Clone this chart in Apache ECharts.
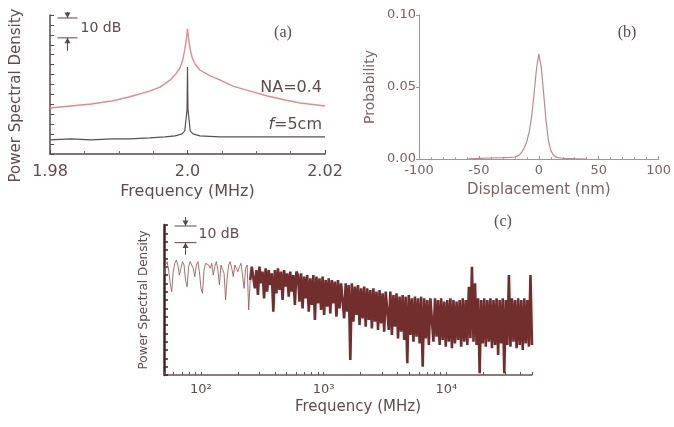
<!DOCTYPE html>
<html>
<head>
<meta charset="utf-8">
<script src="https://cdn.jsdelivr.net/npm/echarts@6/dist/echarts.min.js"></script>
<style>
  html, body { margin: 0; padding: 0; background: #fff; }
  #chart { width: 674px; height: 427px; }
</style>
</head>
<body>
<div id="chart"></div>
<script>
// ---- (a) resonance around 2 MHz, relative PSD in dB ----
const freqNA = [1.980, 1.983, 1.986, 1.989, 1.9915, 1.9945, 1.996, 1.9975, 1.9983, 1.9989, 1.9993, 1.9996, 1.99985, 2.0000,
                2.00015, 2.0004, 2.0007, 2.0011, 2.0018, 2.0033, 2.0047, 2.0066, 2.0091, 2.0116, 2.0142, 2.0164, 2.0200];
const psdNA = [-46.8, -45.8, -44.8, -43.3, -41.3, -38.3, -36.3, -32.7, -29.7, -26.7, -22.7, -17.6, -11.6, -7.1,
               -11.6, -17.6, -21.7, -24.7, -27.7, -30.7, -32.7, -35.8, -38.3, -40.8, -42.8, -44.3, -45.8];
const freqFocus = [1.980, 1.983, 1.986, 1.989, 1.9916, 1.9945, 1.9967, 1.9982, 1.9992, 1.9996, 1.99993, 2.0000,
                   2.00007, 2.0004, 2.0008, 2.0018, 2.0047, 2.0091, 2.0134, 2.0164, 2.0200];
const psdFocus = [-62.9, -62.4, -62.9, -62.4, -62.4, -61.9, -61.4, -60.9, -59.9, -58.4, -47.8, -26.2,
                  -47.8, -58.4, -59.9, -60.9, -61.4, -61.4, -61.4, -61.4, -61.4];

// ---- (b) displacement histogram ----
const dispNm = [-60, -50, -40, -30, -24, -20, -18, -16, -14, -12, -10, -8, -6, -4, -2, 0, 2, 4, 6, 8, 10, 12, 14, 16, 20, 30, 40];
const prob = [0, 0.0004, 0.0007, 0.0009, 0.0011, 0.0014, 0.002, 0.003, 0.005, 0.008, 0.012, 0.019, 0.029, 0.045, 0.062,
              0.073, 0.064, 0.046, 0.027, 0.013, 0.006, 0.003, 0.0015, 0.001, 0.0005, 0.0002, 0];

// ---- (c) broadband PSD (dB), sampled on a log-spaced frequency grid ----
const broadStartMHz = 50;
const broadEndMHz = 50000;
const psdBroad = [
  // 50 - 108 MHz
  -30, -24, -22, -27, -35, -40, -28, -23, -21, -24, -30, -26, -22, -24, -33, -37, -25, -22, -21, -26, -31, -24, -22, -28, -38, -41, -27, -23, -22,
  // 110 - 250 MHz
  -24, -26, -23, -30, -25, -22, -27, -36, -24, -23, -29, -45, -32, -24, -22, -26, -31, -24, -23, -28, -25, -23, -30, -38, -26, -24, -51, -33, -25,
  // 250 - 560 MHz
  -26, -38, -27, -42, -25, -35, -28, -44, -26, -40, -27, -36, -29, -52, -27, -41, -26, -39, -28, -45, -27, -37, -29, -43, -28, -40, -30, -48, -28,
  // 0.57 - 1.3 GHz
  -30, -46, -29, -50, -31, -44, -30, -52, -32, -48, -30, -57, -31, -47, -32, -51, -31, -54, -33, -49, -32, -53, -33, -47, -34, -55, -33, -50, -35,
  // 1.3 - 2.9 GHz
  -34, -56, -35, -52, -36, -81, -35, -58, -37, -54, -36, -60, -38, -56, -37, -61, -38, -57, -39, -62, -38, -58, -40, -63, -39, -59, -41, -64, -40,
  // 3 - 6.5 GHz
  -41, -63, -40, -66, -42, -61, -41, -68, -43, -64, -42, -69, -43, -83, -42, -66, -44, -70, -43, -67, -44, -71, -43, -85, -44, -68, -45, -72, -44,
  // 6.7 - 16 GHz
  -45, -70, -44, -67, -45, -72, -44, -69, -46, -73, -45, -70, -44, -74, -45, -71, -46, -69, -45, -73, -44, -70, -45, -72, -37, -68, -25, -70, -35, -72,
  // 16 - 50 GHz
  -44, -89, -45, -71, -44, -73, -45, -70, -44, -74, -45, -72, -44, -78, -45, -71, -44, -89, -45, -72, -30, -73, -44, -70, -45, -74, -44, -72, -45, -75,
  -44, -71, -45, -73, -30, -72
];
const freqBroad = psdBroad.map((_, i) =>
  broadStartMHz * Math.pow(broadEndMHz / broadStartMHz, i / (psdBroad.length - 1)));
// below this sample index the trace is sparse (thin strokes), above it the trace is a dense band
const denseFrom = 56;
const decadeLabels = [100, 1000, 10000];

const zip = (xs, ys) => xs.map((x, i) => [x, ys[i]]);

const TEXT = '#5f4c4c';
const TEXT_B = '#7a6464';
const FONT = 'DejaVu Sans';
const SERIF = 'Liberation Serif';

// log-axis tick positions: 5..9 x 10^1, then 1..9 x 10^2, 10^3, then up to 5 x 10^4
const logTicks = [];
for (let e = 1; e <= 4; e++) {
  for (let m = 1; m <= 9; m++) {
    const v = m * Math.pow(10, e);
    if (v >= broadStartMHz && v <= broadEndMHz) logTicks.push(v);
  }
}
const SUP = { 2: '\u00b2', 3: '\u00b3', 4: '\u2074' };

const chart = echarts.init(document.getElementById('chart'), null, { renderer: 'canvas' });

const broadPts = zip(freqBroad, psdBroad);

const option = {
  animation: false,
  backgroundColor: '#ffffff',
  grid: [
    { left: 50, top: 15, width: 275, height: 139 },
    { left: 419, top: 15, width: 240, height: 144 },
    { left: 164, top: 225, width: 368, height: 150 }
  ],
  xAxis: [
    {
      gridIndex: 0, type: 'value', min: 1.98, max: 2.02, interval: 0.02,
      name: 'Frequency (MHz)', nameLocation: 'middle', nameGap: 30,
      nameTextStyle: { color: TEXT, fontFamily: FONT, fontSize: 16 },
      axisLine: { onZero: false, lineStyle: { color: '#5a4848', width: 1.5 } },
      axisTick: { inside: true, length: 4, lineStyle: { color: '#5a4848' } },
      minorTick: { show: true, splitNumber: 4, length: 3, lineStyle: { color: '#7a6868' } },
      splitLine: { show: false },
      axisLabel: {
        color: TEXT, fontFamily: FONT, fontSize: 16, margin: 10,
        formatter: v => Math.abs(v - 2) < 1e-9 ? '2.0' : v.toFixed(2)
      }
    },
    {
      gridIndex: 1, type: 'value', min: -100, max: 100, interval: 50,
      name: 'Displacement (nm)', nameLocation: 'middle', nameGap: 24,
      nameTextStyle: { color: TEXT_B, fontFamily: FONT, fontSize: 15 },
      axisLine: { onZero: false, lineStyle: { color: '#a89292', width: 1 } },
      axisTick: { inside: true, length: 3, lineStyle: { color: '#a89292' } },
      minorTick: { show: true, splitNumber: 5, length: 2, lineStyle: { color: '#b8a4a4' } },
      splitLine: { show: false },
      axisLabel: { color: TEXT_B, fontFamily: FONT, fontSize: 13, margin: 5 }
    },
    {
      gridIndex: 2, type: 'log', logBase: 10, min: broadStartMHz, max: broadEndMHz,
      name: 'Frequency (MHz)', nameLocation: 'middle', nameGap: 25,
      nameTextStyle: { color: TEXT, fontFamily: FONT, fontSize: 15, padding: [0, 0, 0, 20] },
      axisLine: { onZero: false, lineStyle: { color: '#6a5252', width: 1.5 } },
      axisTick: { inside: true, length: 3, customValues: logTicks, lineStyle: { color: '#6a5252' } },
      splitLine: { show: false },
      axisLabel: {
        color: TEXT, fontFamily: FONT, fontSize: 13, margin: 8,
        customValues: decadeLabels,
        formatter: v => '10' + SUP[Math.round(Math.log10(v))]
      }
    }
  ],
  yAxis: [
    {
      gridIndex: 0, type: 'value', min: -70, max: 0, interval: 5,
      name: 'Power Spectral Density', nameLocation: 'middle', nameGap: 26,
      nameTextStyle: { color: TEXT, fontFamily: FONT, fontSize: 15, padding: [0, 22, 0, 0] },
      axisLine: { show: true, onZero: false, lineStyle: { color: '#5a4848', width: 1.5 } },
      axisTick: { show: true, inside: true, length: 4, lineStyle: { color: '#5a4848' } },
      axisLabel: { show: false },
      splitLine: { show: false }
    },
    {
      gridIndex: 1, type: 'value', min: 0, max: 0.1, interval: 0.05,
      name: 'Probability', nameLocation: 'middle', nameGap: 42,
      nameTextStyle: { color: TEXT_B, fontFamily: FONT, fontSize: 14 },
      axisLine: { show: true, onZero: false, lineStyle: { color: '#a89292', width: 1 } },
      axisTick: { show: true, length: 3, lineStyle: { color: '#a89292' } },
      axisLabel: { color: TEXT_B, fontFamily: FONT, fontSize: 13, margin: 3, formatter: v => v.toFixed(2) },
      splitLine: { show: false }
    },
    {
      gridIndex: 2, type: 'value', min: -90, max: 0, interval: 5,
      name: 'Power Spectral Density', nameLocation: 'middle', nameGap: 14,
      nameTextStyle: { color: TEXT, fontFamily: FONT, fontSize: 12 },
      axisLine: { show: true, onZero: false, lineStyle: { color: '#3e2424', width: 2.5 } },
      axisTick: { show: true, inside: true, length: 4, lineStyle: { color: '#3e2424', width: 1.5 } },
      axisLabel: { show: false },
      splitLine: { show: false }
    }
  ],
  series: [
    {
      name: 'NA=0.4', type: 'line', xAxisIndex: 0, yAxisIndex: 0,
      data: zip(freqNA, psdNA), showSymbol: false, smooth: false,
      lineStyle: { color: '#e08c8c', width: 1.4 }
    },
    {
      name: 'f=5cm', type: 'line', xAxisIndex: 0, yAxisIndex: 0,
      data: zip(freqFocus, psdFocus), showSymbol: false,
      lineStyle: { color: '#5a5050', width: 1.2 }
    },
    {
      name: 'Probability', type: 'line', xAxisIndex: 1, yAxisIndex: 1,
      data: zip(dispNm, prob), showSymbol: false,
      lineStyle: { color: '#b88c8c', width: 1.2 }
    },
    {
      name: 'Broadband PSD (sparse)', type: 'line', xAxisIndex: 2, yAxisIndex: 2,
      data: broadPts.slice(0, denseFrom + 1), showSymbol: false, sampling: false,
      lineStyle: { color: '#985858', width: 1, opacity: 0.85 }
    },
    {
      name: 'Broadband PSD (dense)', type: 'line', xAxisIndex: 2, yAxisIndex: 2,
      data: broadPts.slice(denseFrom), showSymbol: false, sampling: false,
      lineStyle: { color: '#6a2222', width: 2.6, opacity: 0.95, join: 'bevel' }
    }
  ]
};
chart.setOption(option);

// ---- annotations: panel tags, curve labels and 10 dB scale bars ----
const AX = '#5a4848';
function scaleBar(gridIndex, xVal, topDb, halfW, upLen, downLen, color) {
  const pTop = chart.convertToPixel({ gridIndex }, [xVal, topDb]);
  const pBot = chart.convertToPixel({ gridIndex }, [xVal, topDb - 10]);
  const x = Math.round(pTop[0]) + 0.5;
  const yT = pTop[1], yB = pBot[1];
  const st = { stroke: color, lineWidth: 1 };
  const ah = 3;
  return [
    { type: 'line', shape: { x1: x - halfW, y1: yT, x2: x + halfW, y2: yT }, style: st },
    { type: 'line', shape: { x1: x - halfW, y1: yB, x2: x + halfW, y2: yB }, style: st },
    { type: 'line', shape: { x1: x, y1: yT - upLen, x2: x, y2: yT }, style: st },
    { type: 'polygon', shape: { points: [[x - ah, yT - ah * 1.8], [x + ah, yT - ah * 1.8], [x, yT]] }, style: { fill: color } },
    { type: 'line', shape: { x1: x, y1: yB + downLen, x2: x, y2: yB }, style: st },
    { type: 'polygon', shape: { points: [[x - ah, yB + ah * 1.8], [x + ah, yB + ah * 1.8], [x, yB]] }, style: { fill: color } },
    {
      type: 'text', x: x + 13, y: (yT + yB) / 2,
      style: { text: '10 dB', fill: TEXT, font: '14px "' + FONT + '"', textVerticalAlign: 'middle' }
    }
  ];
}

const graphics = [
  ...scaleBar(0, 1.98247, -1.5, 10, 6, 13, AX),
  ...scaleBar(2, 74, -0.6, 11, 9, 12, AX),
  { type: 'text', x: 283, y: 33, style: { text: '(a)', fill: TEXT, font: '16px "' + SERIF + '"', textAlign: 'center', textVerticalAlign: 'middle' } },
  { type: 'text', x: 627, y: 33, style: { text: '(b)', fill: TEXT, font: '16px "' + SERIF + '"', textAlign: 'center', textVerticalAlign: 'middle' } },
  { type: 'text', x: 503, y: 222, style: { text: '(c)', fill: TEXT, font: '16px "' + SERIF + '"', textAlign: 'center', textVerticalAlign: 'middle' } },
  { type: 'text', x: 322, y: 88, style: { text: 'NA=0.4', fill: TEXT, font: '16px "' + FONT + '"', textAlign: 'right', textVerticalAlign: 'middle' } },
  {
    type: 'text', x: 322, y: 125,
    style: {
      text: '{i|f}{n|=5cm}', textAlign: 'right', textVerticalAlign: 'middle',
      rich: {
        i: { fill: TEXT, font: 'italic 16px "' + FONT + '"' },
        n: { fill: TEXT, font: '16px "' + FONT + '"' }
      }
    }
  }
];
chart.setOption({ graphic: graphics });
</script>
</body>
</html>
